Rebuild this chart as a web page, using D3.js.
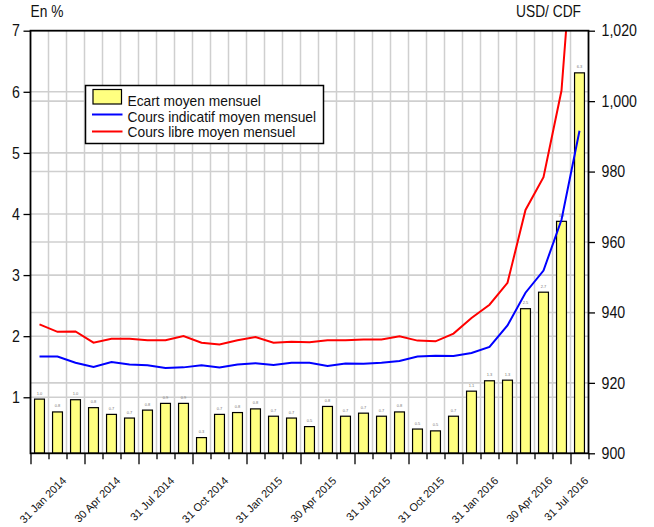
<!DOCTYPE html>
<html><head><meta charset="utf-8">
<script src="https://cdn.jsdelivr.net/npm/d3@7"></script>
<style>body{margin:0;background:#fff}svg{display:block;font-family:"Liberation Sans",Arial,sans-serif}</style>
</head><body><svg id="c" width="654" height="527"></svg>
<script>
// ---- data ----
const months = ["Jan 2014","Feb 2014","Mar 2014","Apr 2014","May 2014","Jun 2014","Jul 2014","Aug 2014","Sep 2014","Oct 2014","Nov 2014","Dec 2014",
  "Jan 2015","Feb 2015","Mar 2015","Apr 2015","May 2015","Jun 2015","Jul 2015","Aug 2015","Sep 2015","Oct 2015","Nov 2015","Dec 2015",
  "Jan 2016","Feb 2016","Mar 2016","Apr 2016","May 2016","Jun 2016","Jul 2016"];
const ecart = [0.97,0.76,0.96,0.83,0.72,0.66,0.79,0.90,0.90,0.34,0.72,0.75,0.81,0.69,0.66,0.52,0.85,0.69,0.74,0.69,0.76,0.48,0.45,0.69,1.10,1.27,1.28,2.45,2.72,3.88,6.31];
const indicatif = [927.5,927.5,925.7,924.5,925.9,925.2,925.0,924.2,924.4,925.0,924.4,925.2,925.6,925.1,925.7,925.7,924.8,925.5,925.4,925.7,926.2,927.5,927.7,927.6,928.5,930.2,936.3,945.6,951.9,966.3,991.6];
const libre = [936.6,934.5,934.6,931.4,932.5,932.5,932.1,932.1,933.3,931.4,930.9,932.1,933.0,931.4,931.7,931.5,932.1,932.1,932.3,932.3,933.2,932.0,931.8,934.0,938.4,942.2,948.4,969.1,978.4,1003.0,1070];
const xLabels = ["31 Jan 2014","30 Apr 2014","31 Jul 2014","31 Oct 2014","31 Jan 2015","30 Apr 2015","31 Jul 2015","31 Oct 2015","31 Jan 2016","30 Apr 2016","31 Jul 2016"];
const xLabelMonth = [0,3,6,9,12,15,18,21,24,27,30];
const leftTicks = [1,2,3,4,5,6,7];
const rightTicks = [900,920,940,960,980,1000,1020];
const legendItems = ["Ecart moyen mensuel","Cours indicatif moyen mensuel","Cours libre moyen mensuel"];

// ---- layout ----
const L = 30.5, R = 588.5, T = 30.7, B = 453.3;
const SX = 0.86;
const svg = d3.select("#c");
const n = months.length;
const xb = d3.scaleBand().domain(d3.range(n)).range([L,R]).paddingInner(0.45).paddingOuter(0.225);
const xl = d3.scaleLinear().domain([0,n]).range([L,R]);
const yL = d3.scaleLinear().domain([0.083,7]).range([B,T]);
const yR = d3.scaleLinear().domain([900,1020]).range([B,T]);
const grid = "#cfcfcf";

// gridlines
const g = svg.append("g");
g.selectAll("line.v").data(d3.range(1,n)).join("line")
  .attr("x1",d=>xl(d)).attr("x2",d=>xl(d)).attr("y1",T).attr("y2",B)
  .attr("stroke",grid).attr("stroke-width",1.5);
g.selectAll("line.hl").data(leftTicks.slice(0,-1)).join("line")
  .attr("x1",L).attr("x2",R).attr("y1",d=>yL(d)).attr("y2",d=>yL(d))
  .attr("stroke",grid).attr("stroke-width",1.6);
svg.append("g").selectAll("line").data(rightTicks.slice(1,-1)).join("line")
  .attr("x1",L).attr("x2",R).attr("y1",d=>yR(d)).attr("y2",d=>yR(d))
  .attr("stroke",grid).attr("stroke-width",1.6);

// clip
svg.append("clipPath").attr("id","pc").append("rect").attr("x",L).attr("y",T).attr("width",R-L).attr("height",B-T);

// bars
svg.append("g").selectAll("rect").data(ecart).join("rect")
  .attr("x",(d,i)=>xb(i)).attr("width",xb.bandwidth())
  .attr("y",d=>yL(d)).attr("height",d=>B-yL(d))
  .attr("fill","#ffff80").attr("stroke","#000").attr("stroke-width",1.2);
svg.append("g").selectAll("text").data(ecart).join("text")
  .attr("x",(d,i)=>xb(i)+xb.bandwidth()/2).attr("y",d=>yL(d)-4.5)
  .attr("text-anchor","middle").attr("font-size",4).attr("fill","#777")
  .text(d=>d.toFixed(1));

// lines
const line = d3.line().x((d,i)=>xb(i)+xb.bandwidth()/2).y(d=>yR(d));
const lg = svg.append("g").attr("clip-path","url(#pc)");
lg.append("path").datum(indicatif).attr("d",line).attr("fill","none").attr("stroke","#0000ff").attr("stroke-width",2);
lg.append("path").datum(libre).attr("d",line).attr("fill","none").attr("stroke","#ff0000").attr("stroke-width",2);

// frame
svg.append("rect").attr("x",L).attr("y",T).attr("width",R-L).attr("height",B-T)
  .attr("fill","none").attr("stroke","#000").attr("stroke-width",1.8);

// axes
function styleAxis(sel, dx){
  sel.select(".domain").remove();
  sel.selectAll(".tick line").attr("stroke","#000").attr("stroke-width",1.3);
  sel.selectAll(".tick text").attr("font-size",16.5).attr("fill","#111")
     .attr("font-family","Liberation Sans, Arial, sans-serif")
     .attr("x",dx/SX).attr("transform",`scale(${SX},1)`);
}
svg.append("g").attr("transform",`translate(${L},0)`)
  .call(d3.axisLeft(yL).tickValues(leftTicks).tickFormat(d3.format("d")).tickSize(7).tickPadding(3))
  .call(s=>styleAxis(s,-10.5));
svg.append("g").attr("transform",`translate(${R},0)`)
  .call(d3.axisRight(yR).tickValues(rightTicks).tickFormat(d3.format(",")).tickSize(6.5).tickPadding(6))
  .call(s=>styleAxis(s,13));
const xa = svg.append("g").attr("transform",`translate(0,${B})`)
  .call(d3.axisBottom(xl).tickValues(d3.range(0,n+1)).tickFormat("").tickSize(6));
xa.select(".domain").remove();
xa.selectAll(".tick line").attr("stroke","#000").attr("stroke-width",1.3)
  .attr("y2",d=>d%3===0?11:6);
svg.append("g").selectAll("text").data(xLabels).join("text")
  .attr("transform",(d,i)=>`translate(${xl(Math.min(xLabelMonth[i]+2,n))+0.5},${B+28}) rotate(-45)`)
  .attr("text-anchor","end").attr("font-size",11).attr("fill","#111").text(d=>d);

// axis titles
function ntext(x,y,t,anchor,fs,sx){
  return svg.append("text").attr("transform",`translate(${x},${y}) scale(${sx||SX},1)`)
    .attr("text-anchor",anchor||"start").attr("font-size",fs||16).attr("fill","#111").text(t);
}
ntext(30.5,17,"En %");
ntext(581,17,"USD/ CDF","end");

// legend
const leg = svg.append("g");
leg.append("rect").attr("x",85.5).attr("y",85.5).attr("width",238).attr("height",58)
  .attr("fill","#fff").attr("stroke","#000").attr("stroke-width",1.5);
leg.append("rect").attr("x",93).attr("y",89.5).attr("width",28.5).attr("height",14.5)
  .attr("fill","#ffff80").attr("stroke","#000").attr("stroke-width",1.2);
leg.append("line").attr("x1",92).attr("x2",122.5).attr("y1",114.5).attr("y2",114.5).attr("stroke","#0000ff").attr("stroke-width",2);
leg.append("line").attr("x1",92).attr("x2",122.5).attr("y1",131.5).attr("y2",131.5).attr("stroke","#ff0000").attr("stroke-width",2);
legendItems.forEach((t,i)=>ntext(127.5,106+i*15.7,t,"start",15,0.92));
</script></body></html>
